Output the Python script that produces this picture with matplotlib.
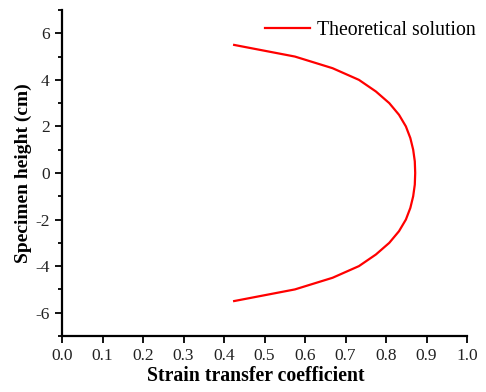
import numpy as np
import matplotlib
matplotlib.use('Agg')
import matplotlib.pyplot as plt
from matplotlib.ticker import MultipleLocator

# Theoretical solution (symmetric about 0)
height = [5.5, 5.0, 4.5, 4.0, 3.5, 3.0, 2.5, 2.0, 1.5, 1.0, 0.5, 0.0,
          -0.5, -1.0, -1.5, -2.0, -2.5, -3.0, -3.5, -4.0, -4.5, -5.0, -5.5]
coef = [0.425, 0.575, 0.668, 0.733, 0.775, 0.808, 0.832, 0.849, 0.860, 0.867, 0.871, 0.872,
        0.871, 0.867, 0.860, 0.849, 0.832, 0.808, 0.775, 0.733, 0.668, 0.575, 0.425]

plt.rcParams['font.family'] = ['Liberation Serif', 'DejaVu Serif']
plt.rcParams['axes.unicode_minus'] = False

fig = plt.figure(figsize=(4.86, 3.92), dpi=100)
ax = fig.add_axes([0.1276, 0.1429, 0.8334, 0.8316])

ax.plot(coef, height, color='red', lw=1.6, label='Theoretical solution')

ax.set_xlim(0, 1.0)
ax.set_ylim(-7, 7)
ax.xaxis.set_major_locator(MultipleLocator(0.1))
ax.yaxis.set_major_locator(MultipleLocator(2))
ax.yaxis.set_minor_locator(MultipleLocator(1))
ax.tick_params(which='major', direction='out', length=5, width=1.3, pad=4,
               labelsize=12.5, colors='black', labelcolor='#222222')
ax.tick_params(which='minor', direction='out', length=3, width=1.3)

for s in ['top', 'right']:
    ax.spines[s].set_visible(False)
for s in ['left', 'bottom']:
    ax.spines[s].set_linewidth(1.6)

ax.set_xlabel('Strain transfer coefficient', fontsize=14.2, fontweight='bold', labelpad=1)
ax.xaxis.label.set_x(0.478)
ax.set_ylabel('Specimen height (cm)', fontsize=14, fontweight='bold', labelpad=2)

ax.legend(loc='upper right', frameon=False, fontsize=14.2, handlelength=2.25,
          handletextpad=0.35, borderaxespad=0.0, bbox_to_anchor=(1.04, 0.99))

fig.savefig('out.png', dpi=100)
